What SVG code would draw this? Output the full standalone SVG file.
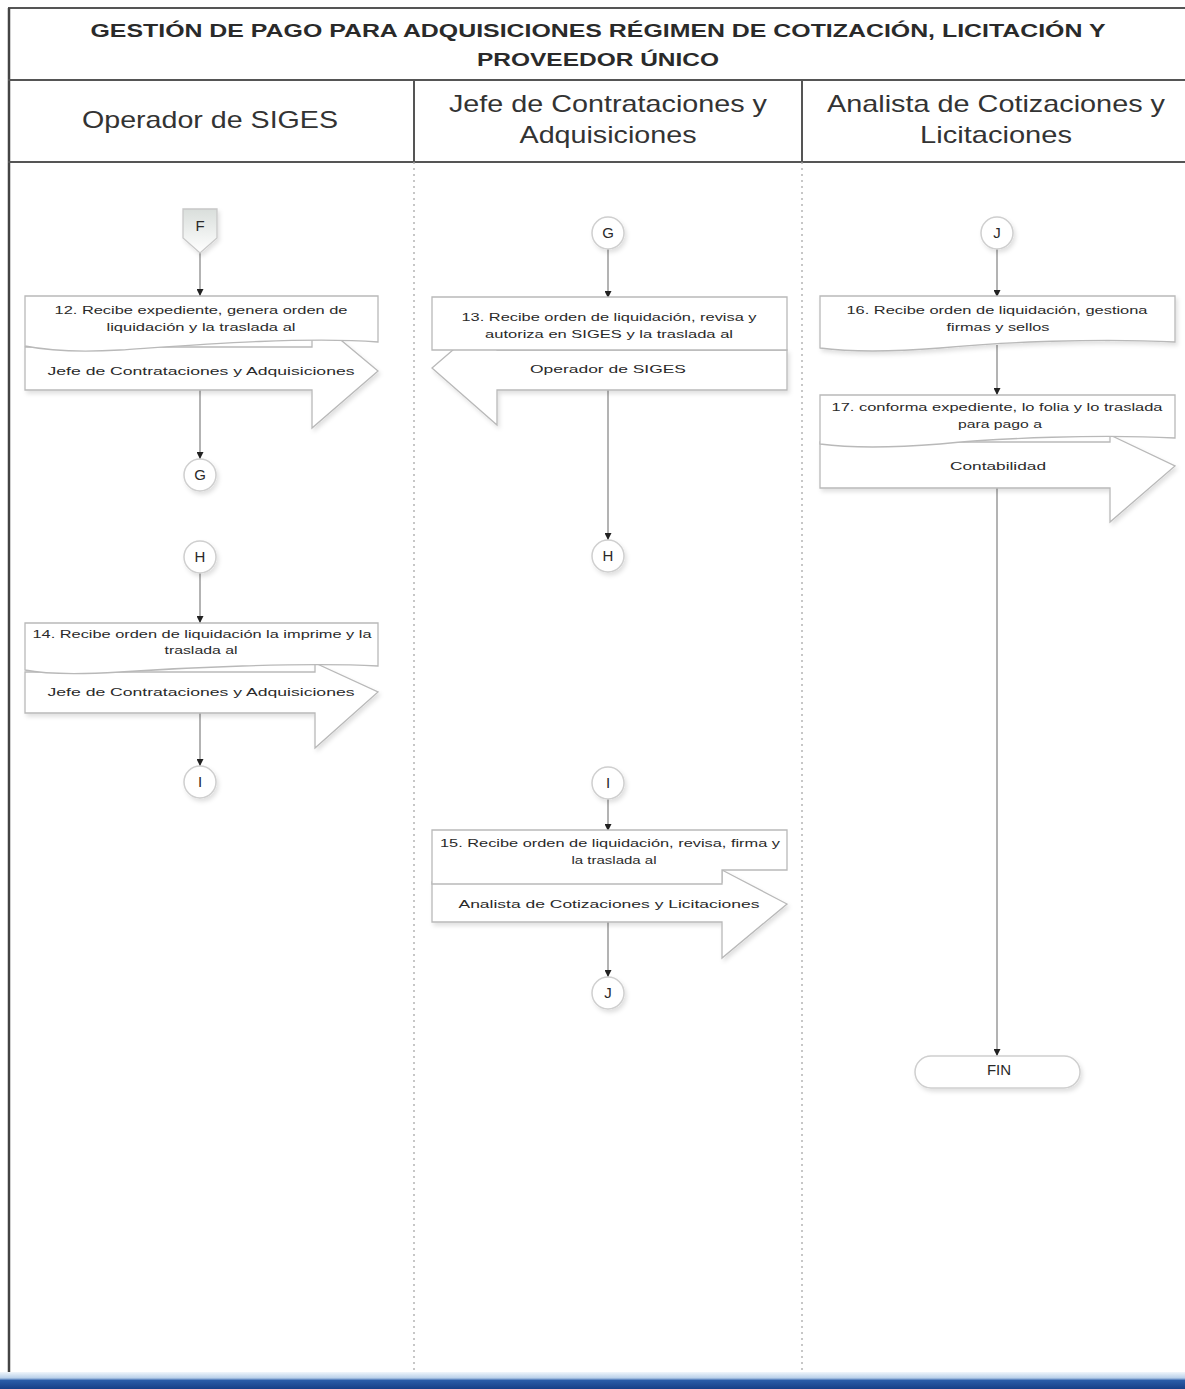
<svg xmlns="http://www.w3.org/2000/svg" width="1185" height="1389" viewBox="0 0 1185 1389">
<style>
text{font-family:"Liberation Sans",Arial,sans-serif;fill:#2a2a2a}
.title{font-size:18px;font-weight:bold;text-anchor:middle}
.lane{font-size:24px;text-anchor:middle;fill:#333}
.t{font-size:11.5px;text-anchor:middle}
.c{font-size:15px;text-anchor:middle}
.shape{fill:#fff;stroke:#b9b9b9;stroke-width:1.3}
.conn{fill:#fff;stroke:#cfcfcf;stroke-width:1.5}
.edge{fill:none;stroke:#8a8a8a;stroke-width:1.3}
</style>
<defs>
<marker id="ah" viewBox="0 0 10 10" refX="10" refY="5" markerWidth="7" markerHeight="7" orient="auto" markerUnits="userSpaceOnUse">
<path d="M0,0 L10,5 L0,10 Z" fill="#222"/>
</marker>
<filter id="sh" x="-10%" y="-10%" width="130%" height="140%">
<feDropShadow dx="2" dy="3" stdDeviation="2" flood-color="#000" flood-opacity="0.12"/>
</filter>
<linearGradient id="offg" x1="0" y1="0" x2="0" y2="1">
<stop offset="0" stop-color="#d9dedb"/>
<stop offset="1" stop-color="#ffffff"/>
</linearGradient>
<linearGradient id="band" x1="0" y1="0" x2="0" y2="1">
<stop offset="0" stop-color="#f0f6fb"/>
<stop offset="0.35" stop-color="#b9d0ea"/>
<stop offset="0.5" stop-color="#2a5ca8"/>
<stop offset="1" stop-color="#173f87"/>
</linearGradient>
</defs>
<rect width="1185" height="1389" fill="#fff"/>

<!-- frame -->
<g id="frame">
<line x1="8" y1="8" x2="1185" y2="8" stroke="#555" stroke-width="2"/>
<line x1="9" y1="8" x2="9" y2="1382" stroke="#444" stroke-width="2.5"/>
<line x1="8" y1="80" x2="1185" y2="80" stroke="#555" stroke-width="2"/>
<line x1="8" y1="162" x2="1185" y2="162" stroke="#555" stroke-width="2"/>
<line x1="414" y1="80" x2="414" y2="162" stroke="#555" stroke-width="2"/>
<line x1="802" y1="80" x2="802" y2="162" stroke="#555" stroke-width="2"/>
<line x1="414" y1="162" x2="414" y2="1380" stroke="#aaa" stroke-width="1.3" stroke-dasharray="2,4"/>
<line x1="802" y1="162" x2="802" y2="1380" stroke="#aaa" stroke-width="1.3" stroke-dasharray="2,4"/>
<rect x="0" y="1372" width="1185" height="17" fill="url(#band)"/>
<text class="title" x="598" y="37" textLength="1015" lengthAdjust="spacingAndGlyphs">GESTIÓN DE PAGO PARA ADQUISICIONES RÉGIMEN DE COTIZACIÓN, LICITACIÓN Y</text>
<text class="title" x="598" y="66" textLength="242" lengthAdjust="spacingAndGlyphs">PROVEEDOR ÚNICO</text>
<text class="lane" x="210" y="128" textLength="256" lengthAdjust="spacingAndGlyphs">Operador de SIGES</text>
<text class="lane" x="608" y="112" textLength="318" lengthAdjust="spacingAndGlyphs">Jefe de Contrataciones y</text>
<text class="lane" x="608" y="143" textLength="177" lengthAdjust="spacingAndGlyphs">Adquisiciones</text>
<text class="lane" x="996" y="112" textLength="338" lengthAdjust="spacingAndGlyphs">Analista de Cotizaciones y</text>
<text class="lane" x="996" y="143" textLength="152" lengthAdjust="spacingAndGlyphs">Licitaciones</text>
</g>

<!-- connectors -->
<g id="connectors">
<line class="edge" x1="200" y1="252" x2="200" y2="296" marker-end="url(#ah)"/>
<line class="edge" x1="200" y1="390" x2="200" y2="459" marker-end="url(#ah)"/>
<line class="edge" x1="200" y1="573" x2="200" y2="623" marker-end="url(#ah)"/>
<line class="edge" x1="200" y1="713" x2="200" y2="766" marker-end="url(#ah)"/>
<line class="edge" x1="608" y1="249" x2="608" y2="298" marker-end="url(#ah)"/>
<line class="edge" x1="608" y1="390" x2="608" y2="540" marker-end="url(#ah)"/>
<line class="edge" x1="608" y1="799" x2="608" y2="831" marker-end="url(#ah)"/>
<line class="edge" x1="608" y1="922" x2="608" y2="977" marker-end="url(#ah)"/>
<line class="edge" x1="997" y1="249" x2="997" y2="297" marker-end="url(#ah)"/>
<line class="edge" x1="997" y1="345" x2="997" y2="395" marker-end="url(#ah)"/>
<line class="edge" x1="997" y1="488" x2="997" y2="1056" marker-end="url(#ah)"/>
</g>

<!-- reference connectors -->
<g id="F">
<path d="M183,209 H217 V238 L200,253 L183,238 Z" fill="url(#offg)" stroke="#c8c8c8" stroke-width="1.3" filter="url(#sh)"/>
<text class="c" x="200" y="231">F</text>
</g>
<g id="G1"><circle class="conn" cx="200" cy="475" r="16" filter="url(#sh)"/><text class="c" x="200" y="480">G</text></g>
<g id="H1"><circle class="conn" cx="200" cy="557" r="16" filter="url(#sh)"/><text class="c" x="200" y="562">H</text></g>
<g id="I1"><circle class="conn" cx="200" cy="782" r="16" filter="url(#sh)"/><text class="c" x="200" y="787">I</text></g>
<g id="G2"><circle class="conn" cx="608" cy="233" r="16" filter="url(#sh)"/><text class="c" x="608" y="238">G</text></g>
<g id="H2"><circle class="conn" cx="608" cy="556" r="16" filter="url(#sh)"/><text class="c" x="608" y="561">H</text></g>
<g id="I2"><circle class="conn" cx="608" cy="783" r="16" filter="url(#sh)"/><text class="c" x="608" y="788">I</text></g>
<g id="J1"><circle class="conn" cx="608" cy="993" r="16" filter="url(#sh)"/><text class="c" x="608" y="998">J</text></g>
<g id="J2"><circle class="conn" cx="997" cy="233" r="16" filter="url(#sh)"/><text class="c" x="997" y="238">J</text></g>

<!-- step 12 -->
<g id="n12">
<path class="shape" d="M25,347 H312 V316 L378,371 L312,428 V390 H25 Z" filter="url(#sh)"/>
<path class="shape" d="M25,296 H378 V342 C300,336 180,346 120,350 C70,353 45,350 25,346 Z"/>
<text class="t" x="201" y="314" textLength="293" lengthAdjust="spacingAndGlyphs">12. Recibe expediente, genera orden de</text>
<text class="t" x="201" y="331" textLength="189" lengthAdjust="spacingAndGlyphs">liquidación y la traslada al</text>
<text class="t" x="201" y="375" textLength="307" lengthAdjust="spacingAndGlyphs">Jefe de Contrataciones y Adquisiciones</text>
</g>

<!-- step 13 -->
<g id="n13">
<path class="shape" d="M787,350 V390 H497 V425 L432,368 L497,312 V350 Z" filter="url(#sh)"/>
<path class="shape" d="M432,297 H787 V350 H432 Z"/>
<text class="t" x="609" y="321" textLength="295" lengthAdjust="spacingAndGlyphs">13. Recibe orden de liquidación, revisa y</text>
<text class="t" x="609" y="338" textLength="248" lengthAdjust="spacingAndGlyphs">autoriza en SIGES y la traslada al</text>
<text class="t" x="608" y="373" textLength="156" lengthAdjust="spacingAndGlyphs">Operador de SIGES</text>
</g>

<!-- step 14 -->
<g id="n14">
<path class="shape" d="M25,672 H315 V663 L378,692 L315,748 V713 H25 Z" filter="url(#sh)"/>
<path class="shape" d="M25,623 H378 V666 C300,662 180,668 120,672 C70,675 45,674 25,670 Z"/>
<text class="t" x="202" y="638" textLength="339" lengthAdjust="spacingAndGlyphs">14. Recibe orden de liquidación la imprime y la</text>
<text class="t" x="201" y="654" textLength="73" lengthAdjust="spacingAndGlyphs">traslada al</text>
<text class="t" x="201" y="696" textLength="307" lengthAdjust="spacingAndGlyphs">Jefe de Contrataciones y Adquisiciones</text>
</g>

<!-- step 15 -->
<g id="n15">
<path class="shape" d="M432,882 H722 V870 L787,904 L722,958 V922 H432 Z" filter="url(#sh)"/>
<path class="shape" d="M432,830 H787 V870 H722 V884 H432 Z"/>
<text class="t" x="610" y="847" textLength="340" lengthAdjust="spacingAndGlyphs">15. Recibe orden de liquidación, revisa, firma y</text>
<text class="t" x="614" y="864" textLength="85" lengthAdjust="spacingAndGlyphs">la traslada al</text>
<text class="t" x="609" y="908" textLength="301" lengthAdjust="spacingAndGlyphs">Analista de Cotizaciones y Licitaciones</text>
</g>

<!-- step 16 -->
<g id="n16">
<path class="shape" d="M820,296 H1175 V342 C1100,338 1000,342 940,348 C890,352 850,352 820,348 Z" filter="url(#sh)"/>
<text class="t" x="997" y="314" textLength="301" lengthAdjust="spacingAndGlyphs">16. Recibe orden de liquidación, gestiona</text>
<text class="t" x="998" y="331" textLength="103" lengthAdjust="spacingAndGlyphs">firmas y sellos</text>
</g>

<!-- step 17 -->
<g id="n17">
<path class="shape" d="M820,442 H1110 V435 L1175,466 L1110,522 V488 H820 Z" filter="url(#sh)"/>
<path class="shape" d="M820,395 H1175 V438 C1100,434 1000,438 940,444 C890,448 850,448 820,444 Z"/>
<text class="t" x="997" y="411" textLength="331" lengthAdjust="spacingAndGlyphs">17. conforma expediente, lo folia y lo traslada</text>
<text class="t" x="1000" y="428" textLength="84" lengthAdjust="spacingAndGlyphs">para pago a</text>
<text class="t" x="998" y="470" textLength="96" lengthAdjust="spacingAndGlyphs">Contabilidad</text>
</g>

<!-- FIN -->
<g id="fin">
<rect class="conn" x="915" y="1056" width="165" height="32" rx="16" filter="url(#sh)"/>
<text class="c" x="999" y="1075">FIN</text>
</g>
</svg>
